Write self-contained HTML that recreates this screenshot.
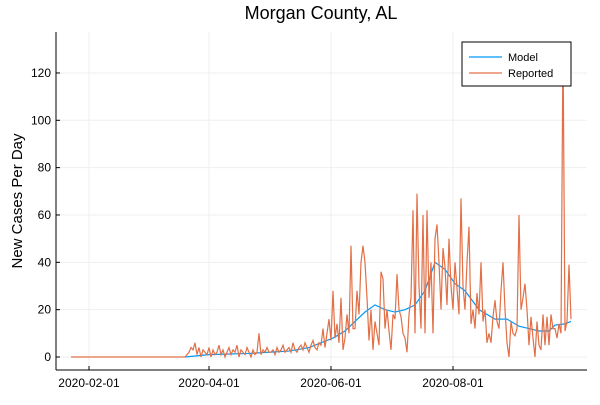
<!DOCTYPE html>
<html><head><meta charset="utf-8"><style>
body{margin:0;background:#fff;font-family:"Liberation Sans",sans-serif}
svg text{font-family:"Liberation Sans",sans-serif}
</style></head><body>
<svg id="chart" width="600" height="400" viewBox="0 0 600 400">
<text x="321" y="19" font-size="18" text-anchor="middle">Morgan County, AL</text>
<text transform="translate(22,201) rotate(-90)" font-size="15" text-anchor="middle">New Cases Per Day</text>
<g id="grid"></g><g id="axes"></g><g id="series"></g>
<g>
<rect x="462" y="42" width="109" height="44" fill="#fff" stroke="#000" stroke-width="1"/>
<line x1="469" y1="57" x2="502" y2="57" stroke="#009af9" stroke-width="1.2"/>
<text x="508" y="61" font-size="11">Model</text>
<line x1="469" y1="73" x2="502" y2="73" stroke="#e26f46" stroke-width="1.2"/>
<text x="508" y="77" font-size="11">Reported</text>
</g>
</svg>
<script>
const xTickLabels=["2020-02-01","2020-04-01","2020-06-01","2020-08-01"];
const xTickDays=[0,60,121,182];
const yTicks=[0,20,40,60,80,100,120];
const reportedStartDay=-9;
const reported=[0,0,0,0,0,0,0,0,0,0,0,0,0,0,0,0,0,0,0,0,0,0,0,0,0,0,0,0,0,0,0,0,0,0,0,0,0,0,0,0,0,0,0,0,0,0,0,0,0,0,0,0,0,0,0,0,0,
0,1,2,4,3,6,1,4,0,3,2,1,4,0,3,1,2,5,1,3,0,2,4,1,3,2,5,0,3,2,1,4,2,0,3,1,2,10,1,3,2,4,2,
2,3,1,4,2,3,5,2,3,4,2,6,3,2,4,5,3,6,4,2,5,7,4,3,6,
5,12,4,10,16,7,28,8,14,6,25,3,8,18,10,
47,12,12,28,18,40,47,40,25,7,20,3,15,10,5,36,33,12,20,11,
3,18,16,35,20,17,10,8,2,18,25,62,10,69,30,12,60,10,62,25,
40,10,50,56,40,20,46,38,22,50,30,20,40,29,18,67,30,20,40,55,
14,20,12,27,18,40,15,20,6,10,6,17,24,15,12,28,40,20,6,0,
15,10,9,12,60,20,25,31,20,5,17,8,0,15,5,3,18,5,17,5,
18,12,12,8,14,10,133,11,15,39,16];
const modelDays=[48,60,80,100,110,116,122,128,133,138,143,148,153,158,163,168,173,178,183,188,195,203,209,215,220,225,230,233,238,241];
const modelValues=[0,1,1.5,2.5,4,6,8,11,15,19,22,20,19,20,22,28,40,37,31,28,20,16,16,13,12,11,11,13.5,14,15];
const X0=89,PXD=2.0,Y0=357,PXU=2.367,L=56,R=587,T=32,B=370;
const xs=d=>X0+d*PXD, ys=v=>Y0-v*PXU;
const NS="http://www.w3.org/2000/svg";
function mk(tag,attrs,parent){const e=document.createElementNS(NS,tag);for(const k in attrs)e.setAttribute(k,attrs[k]);parent.appendChild(e);return e;}
const grid=document.getElementById('grid'),axes=document.getElementById('axes'),series=document.getElementById('series');
yTicks.forEach(v=>{
 const g=mk('line',{x1:L,x2:R,y1:ys(v),y2:ys(v),stroke:'#efefef','stroke-width':1},grid);
 
 
 const t=mk('text',{x:L-5,y:ys(v)+4,'font-size':12,'text-anchor':'end'},axes);t.textContent=v;
 
 
 mk('line',{x1:L,x2:L+4,y1:ys(v),y2:ys(v),stroke:'#000'},axes);
});
xTickDays.forEach((d,i)=>{
 const g=mk('line',{x1:xs(d),x2:xs(d),y1:T,y2:B,stroke:'#efefef','stroke-width':1},grid);
 
 
 const t=mk('text',{x:xs(d),y:B+17,'font-size':12,'text-anchor':'middle'},axes);t.textContent=xTickLabels[i];
 
 
 mk('line',{x1:xs(d),x2:xs(d),y1:B,y2:B-4,stroke:'#000'},axes);
});
const ya=mk('line',{x1:L,x2:L,y1:T,y2:B,stroke:'#000'},axes);


const xa=mk('line',{x1:L,x2:R,y1:B,y2:B,stroke:'#000'},axes);


const mp=mk('polyline',{points:modelDays.map((d,i)=>xs(d)+','+ys(modelValues[i])).join(' '),fill:'none',stroke:'#009af9','stroke-width':1.2},series);


const rp=mk('polyline',{points:reported.map((v,i)=>xs(reportedStartDay+i)+','+ys(v)).join(' '),fill:'none',stroke:'#e26f46','stroke-width':1.2},series);


</script>
</body></html>
